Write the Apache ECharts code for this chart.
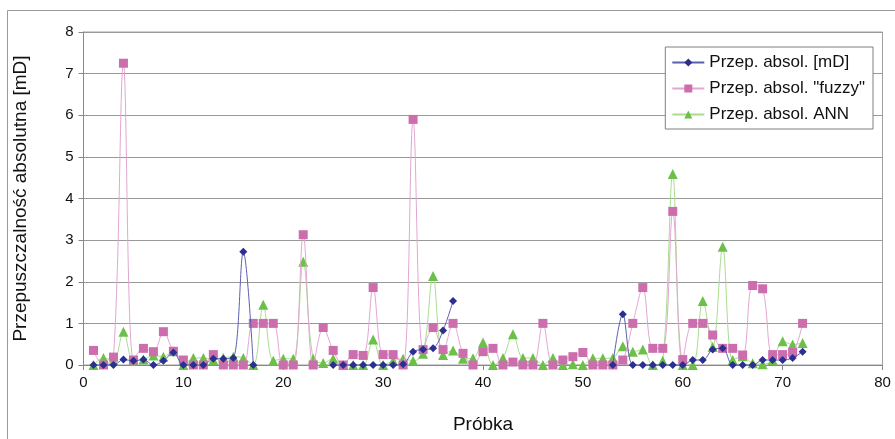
<!DOCTYPE html>
<html><head><meta charset="utf-8">
<script src="https://cdn.jsdelivr.net/npm/echarts@6/dist/echarts.min.js"></script>
<style>html,body{margin:0;padding:0;background:#fff}#c{width:895px;height:439px}</style>
</head><body><div id="c"></div>
<script>
const samples = [];
for (let i = 1; i <= 72; i++) samples.push(i);
const seriesNames = ['Przep. absol. [mD]', 'Przep. absol. "fuzzy"', 'Przep. absol. ANN'];
const mD = [0,0,0,0.13,0.1,0.13,0,0.1,0.3,0,0,0,0.15,0.15,0.17,2.72,0,
  null,null,null,null,null,null,null,
  0,0,0,0,0,0,0,0.02,0.32,0.37,0.4,0.83,1.54,
  null,null,null,null,null,null,null,null,null,null,null,null,null,null,null,
  0,1.22,0,0,0,0,0,0,0.12,0.12,0.37,0.4,0,0,0,0.12,0.12,0.12,0.17,0.32];
const fuzzy = [0.35,0,0.19,7.25,0.12,0.4,0.32,0.8,0.33,0.12,0,0,0.25,0,0,0,1.0,1.0,1.0,
  0,0,3.13,0,0.9,0.35,0,0.25,0.23,1.86,0.25,0.25,0,5.9,0.37,0.9,0.37,1.0,0.28,
  0,0.32,0.4,0,0.07,0,0,1.0,0,0.12,0.2,0.3,0,0,0,0.12,1.0,1.86,0.4,
  0.4,3.69,0.13,1.0,1.0,0.72,0.4,0.4,0.24,1.91,1.83,0.25,0.25,0.3,1.0];
const ann = [0,0.17,0.1,0.8,0.1,0.13,0.23,0.2,0.33,0,0.17,0.17,0.12,0.17,0.2,0.17,0,1.45,0.1,
  0.15,0.15,2.48,0.15,0.05,0.15,0,0,0,0.61,0,0.1,0.15,0.1,0.27,2.14,0.24,0.35,0.15,
  0.16,0.54,0,0.17,0.74,0.17,0.17,0,0.17,0,0.02,0,0.16,0.16,0.17,0.45,0.32,0.37,0,
  0.1,4.59,0,0,1.54,0.43,2.84,0.12,0.21,0.04,0.02,0.12,0.57,0.49,0.53];
const xTicks = {min: 0, max: 80, interval: 10};
const yTicks = {min: 0, max: 8, interval: 1};

const pair = arr => samples.map((s, k) => [s, arr[k]]);
const font = 'Liberation Sans, Arial, sans-serif';
const chart = echarts.init(document.getElementById('c'));
chart.setOption({
  animation: false,
  backgroundColor: '#fff',
  graphic: [{type: 'polyline', shape: {points: [[7.5, 439], [7.5, 10.5], [895, 10.5]]},
    style: {stroke: '#9a9a9a', lineWidth: 1, fill: null}, z: -1}],
  grid: {left: 83.5, right: 12.5, top: 32, bottom: 71, show: true, borderColor: '#a0a0a0', borderWidth: 1},
  legend: {
    orient: 'vertical', right: 22, top: 47, padding: [7, 8, 6, 6], itemGap: 9,
    backgroundColor: '#fff', borderColor: '#808080', borderWidth: 1, borderRadius: 0,
    itemWidth: 32, itemHeight: 10,
    textStyle: {fontFamily: font, fontSize: 17, color: '#111'},
    data: seriesNames
  },
  xAxis: {
    type: 'value', min: xTicks.min, max: xTicks.max, interval: xTicks.interval,
    name: 'Próbka', nameLocation: 'middle', nameGap: 50,
    nameTextStyle: {fontFamily: font, fontSize: 19, color: '#111'},
    axisLine: {onZero: false, lineStyle: {color: '#888'}},
    axisTick: {show: true, length: 5, lineStyle: {color: '#888'}},
    axisLabel: {fontFamily: font, fontSize: 15, color: '#111', margin: 10},
    splitLine: {show: false}
  },
  yAxis: {
    type: 'value', min: yTicks.min, max: yTicks.max, interval: yTicks.interval,
    name: 'Przepuszczalność absolutna [mD]', nameLocation: 'middle', nameGap: 53,
    nameTextStyle: {fontFamily: font, fontSize: 19, color: '#111'},
    axisLine: {show: true, lineStyle: {color: '#888'}},
    axisTick: {show: true, length: 5, lineStyle: {color: '#888'}},
    axisLabel: {fontFamily: font, fontSize: 15, color: '#111', margin: 10},
    splitLine: {show: true, lineStyle: {color: '#999', width: 1}}
  },
  series: [
    {name: seriesNames[2], type: 'line', data: pair(ann), symbol: 'triangle', symbolSize: 10, smooth: 0.35,
      itemStyle: {color: '#6cc04a'}, lineStyle: {color: '#a9dc8f', width: 1}, z: 3},
    {name: seriesNames[1], type: 'line', data: pair(fuzzy), symbol: 'rect', symbolSize: 9, smooth: 0.35,
      itemStyle: {color: '#cc6eae'}, lineStyle: {color: '#e2a6d2', width: 1}, z: 4},
    {name: seriesNames[0], type: 'line', data: pair(mD), symbol: 'diamond', symbolSize: 8, smooth: 0.35,
      itemStyle: {color: '#2b2f8f'}, lineStyle: {color: '#5b5fb0', width: 1}, z: 5}
  ]
});
</script></body></html>
